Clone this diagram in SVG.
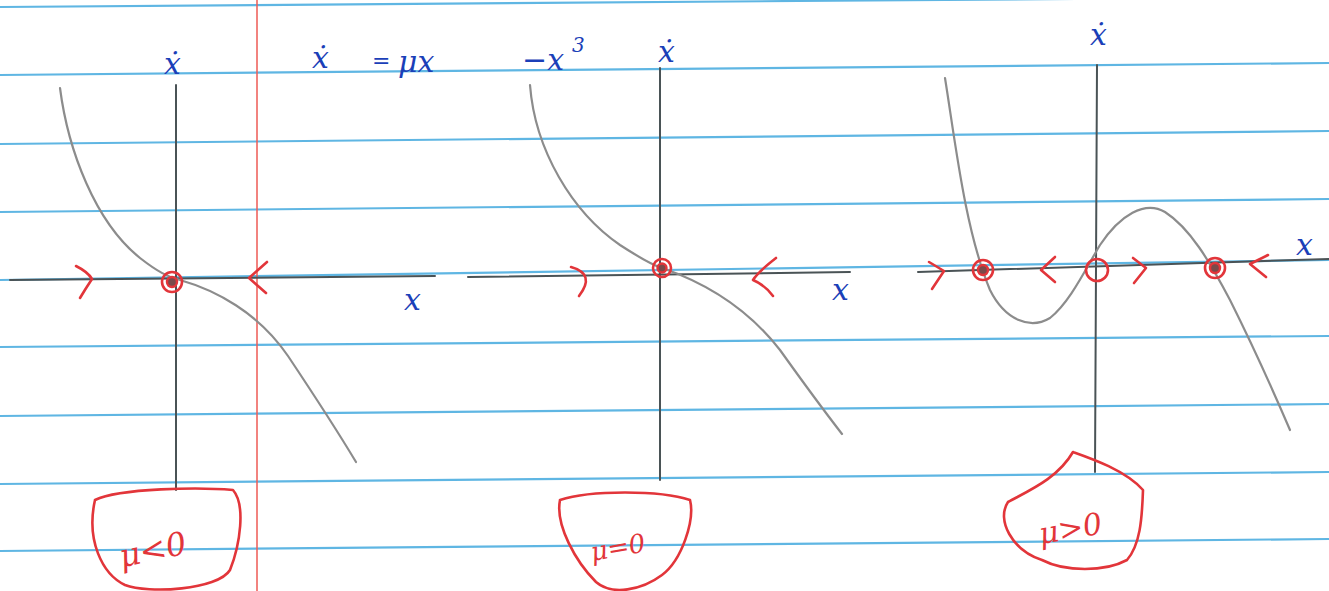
<svg xmlns="http://www.w3.org/2000/svg" width="1329" height="591" viewBox="0 0 1329 591">
<style>
.rule{stroke:#5fb6e3;stroke-width:2.2;fill:none}
.margin{stroke:#ee5a55;stroke-width:1.5}
.axis{stroke:#4a5356;stroke-width:2;fill:none;stroke-linecap:round}
.curve{stroke:#8c8c8c;stroke-width:2.2;fill:none;stroke-linecap:round}
.red{stroke:#e2353a;stroke-width:2.6;fill:none;stroke-linecap:round;stroke-linejoin:round}
.core{fill:#7a4a4a;stroke:#e2353a;stroke-width:2.4}
.blue{fill:#1b3fb8;font-family:"DejaVu Serif",serif;font-style:italic}
.lab{fill:#e2353a;font-family:"DejaVu Serif",serif;font-style:italic}
</style>
<rect width="1329" height="591" fill="#ffffff"/>
<g id="paper">
<line class="rule" x1="0" y1="7" x2="1329" y2="-3"/>
<line class="rule" x1="0" y1="75" x2="1329" y2="63"/>
<line class="rule" x1="0" y1="144" x2="1329" y2="131"/>
<line class="rule" x1="0" y1="212" x2="1329" y2="199"/>
<line class="rule" x1="0" y1="280" x2="1329" y2="260"/>
<line class="rule" x1="0" y1="347" x2="1329" y2="336"/>
<line class="rule" x1="0" y1="416" x2="1329" y2="404"/>
<line class="rule" x1="0" y1="484" x2="1329" y2="472"/>
<line class="rule" x1="0" y1="551" x2="1329" y2="539"/>
<line class="margin" x1="257" y1="0" x2="257" y2="591"/>
</g>
<g id="equation">
<text class="blue" x="312" y="68" font-size="30">ẋ</text>
<text class="blue" x="372" y="68" font-size="22">=</text>
<text class="blue" x="398" y="72" font-size="30">μx</text>
<text class="blue" x="522" y="70" font-size="30">−x</text>
<text class="blue" x="572" y="52" font-size="20">3</text>
</g>
<g id="panel-mu-neg">
<line class="axis" x1="176" y1="85" x2="176" y2="490"/>
<line class="axis" x1="10" y1="280" x2="435" y2="276"/>
<path class="curve" d="M60,88 C68,150 95,222 140,258 C158,272 168,277 180,280 C215,290 258,312 288,356 C312,392 338,432 356,462"/>
<text class="blue" x="164" y="74" font-size="30">ẋ</text>
<text class="blue" x="404" y="310" font-size="30">x</text>
<path class="red" d="M76,266 Q88,272 92,279 Q86,288 80,298"/>
<path class="red" d="M267,262 L249,278 L266,293"/>
<circle class="red" cx="172" cy="282" r="10"/>
<circle class="core" cx="172" cy="282" r="5"/>
<path class="red" d="M95,500 C120,488 200,487 233,490 C246,505 240,545 230,570 C218,590 148,594 125,585 C102,574 86,540 95,500" />
<text class="lab" x="118" y="558" font-size="32" transform="rotate(-12 165 545)">μ&lt;0</text>
</g>
<g id="panel-mu-zero">
<line class="axis" x1="660" y1="68" x2="660" y2="480"/>
<line class="axis" x1="468" y1="277" x2="850" y2="272"/>
<path class="curve" d="M530,85 C535,150 572,212 620,245 C640,258 652,265 662,268 C700,281 745,305 780,350 C805,385 825,412 842,434"/>
<text class="blue" x="658" y="62" font-size="30">ẋ</text>
<text class="blue" x="832" y="300" font-size="30">x</text>
<path class="red" d="M571,267 Q596,274 579,296"/>
<path class="red" d="M776,258 Q758,272 753,280 Q765,285 773,296"/>
<circle class="red" cx="662" cy="268" r="9"/>
<circle class="core" cx="662" cy="268" r="4.5"/>
<path class="red" d="M560,500 C590,490 660,490 690,500 C695,520 682,560 662,575 C642,590 612,596 596,582 C576,562 555,525 560,500"/>
<text class="lab" x="590" y="555" font-size="26" transform="rotate(-10 625 545)">μ=0</text>
</g>
<g id="panel-mu-pos">
<line class="axis" x1="1097" y1="65" x2="1095" y2="472"/>
<line class="axis" x1="918" y1="272" x2="1329" y2="259"/>
<path class="curve" d="M945,78 C955,140 965,230 990,290 C1005,320 1030,330 1050,318 C1070,302 1085,270 1100,245 C1120,215 1145,200 1165,212 C1190,228 1210,262 1230,300 C1255,350 1275,395 1290,430"/>
<text class="blue" x="1090" y="45" font-size="30">ẋ</text>
<text class="blue" x="1296" y="255" font-size="30">x</text>
<path class="red" d="M929,262 L944,271 L932,289"/>
<circle class="red" cx="983" cy="270" r="10"/>
<circle class="core" cx="983" cy="270" r="5"/>
<path class="red" d="M1055,257 L1041,270 L1055,282"/>
<circle class="red" cx="1097" cy="270" r="11"/>
<path class="red" d="M1133,258 L1146,268 L1134,283"/>
<circle class="red" cx="1215" cy="268" r="10"/>
<circle class="core" cx="1215" cy="268" r="5"/>
<path class="red" d="M1268,255 L1250,264 L1266,277"/>
<path class="red" d="M1073,452 C1090,458 1125,470 1143,490 C1142,520 1140,545 1127,560 C1105,572 1065,572 1042,560 C1012,550 996,520 1008,502 C1030,490 1058,478 1073,452"/>
<text class="lab" x="1038" y="538" font-size="30" transform="rotate(-10 1075 525)">μ&gt;0</text>
</g>
</svg>
